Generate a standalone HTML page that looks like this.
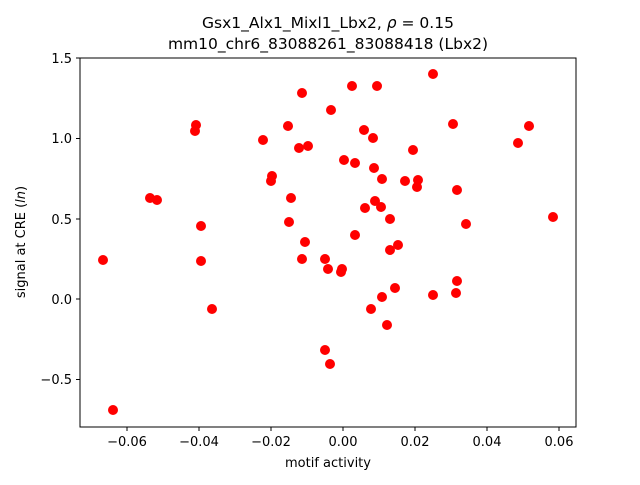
<!DOCTYPE html>
<html><head><meta charset="utf-8"><style>body{margin:0;background:#fff}</style></head><body>
<svg width="640" height="480" xmlns="http://www.w3.org/2000/svg" font-family="DejaVu Sans, Liberation Sans, sans-serif">
<rect width="640" height="480" fill="#fff"/>
<g fill="#f00">
<circle cx="302" cy="93" r="5"/><circle cx="196" cy="125" r="5"/><circle cx="195" cy="131" r="5"/><circle cx="288" cy="126" r="5"/><circle cx="263" cy="140" r="5"/><circle cx="299" cy="148" r="5"/><circle cx="308" cy="146" r="5"/><circle cx="272" cy="176" r="5"/><circle cx="271" cy="181" r="5"/><circle cx="150" cy="198" r="5"/><circle cx="157" cy="200" r="5"/><circle cx="291" cy="198" r="5"/><circle cx="201" cy="226" r="5"/><circle cx="289" cy="222" r="5"/><circle cx="305" cy="242" r="5"/><circle cx="103" cy="260" r="5"/><circle cx="201" cy="261" r="5"/><circle cx="302" cy="259" r="5"/><circle cx="212" cy="309" r="5"/><circle cx="113" cy="410" r="5"/>
<circle cx="433" cy="74" r="5"/><circle cx="352" cy="86" r="5"/><circle cx="377" cy="86" r="5"/><circle cx="331" cy="110" r="5"/><circle cx="453" cy="124" r="5"/><circle cx="529" cy="126" r="5"/><circle cx="364" cy="130" r="5"/><circle cx="373" cy="138" r="5"/><circle cx="518" cy="143" r="5"/><circle cx="413" cy="150" r="5"/><circle cx="344" cy="160" r="5"/><circle cx="355" cy="163" r="5"/><circle cx="374" cy="168" r="5"/><circle cx="382" cy="179" r="5"/><circle cx="405" cy="181" r="5"/><circle cx="418" cy="180" r="5"/><circle cx="417" cy="187" r="5"/><circle cx="457" cy="190" r="5"/><circle cx="375" cy="201" r="5"/><circle cx="381" cy="207" r="5"/><circle cx="365" cy="208" r="5"/><circle cx="390" cy="219" r="5"/><circle cx="466" cy="224" r="5"/><circle cx="553" cy="217" r="5"/><circle cx="355" cy="235" r="5"/><circle cx="398" cy="245" r="5"/><circle cx="390" cy="250" r="5"/><circle cx="325" cy="259" r="5"/><circle cx="328" cy="269" r="5"/><circle cx="342" cy="269" r="5"/><circle cx="341" cy="272" r="5"/><circle cx="457" cy="281" r="5"/><circle cx="395" cy="288" r="5"/><circle cx="382" cy="297" r="5"/><circle cx="433" cy="295" r="5"/><circle cx="456" cy="293" r="5"/><circle cx="371" cy="309" r="5"/><circle cx="387" cy="325" r="5"/><circle cx="325" cy="350" r="5"/><circle cx="330" cy="364" r="5"/>
</g>
<rect x="80" y="58" width="496" height="369" fill="none" stroke="#000" stroke-width="1"/>
<g stroke="#000">
<line x1="127" y1="427" x2="127" y2="431"/><line x1="199" y1="427" x2="199" y2="431"/><line x1="271" y1="427" x2="271" y2="431"/><line x1="343" y1="427" x2="343" y2="431"/><line x1="415" y1="427" x2="415" y2="431"/><line x1="487" y1="427" x2="487" y2="431"/><line x1="559" y1="427" x2="559" y2="431"/>
<line x1="76" y1="58" x2="80" y2="58"/><line x1="76" y1="138.5" x2="80" y2="138.5"/><line x1="76" y1="219" x2="80" y2="219"/><line x1="76" y1="299" x2="80" y2="299"/><line x1="76" y1="379.5" x2="80" y2="379.5"/>
</g>
<g font-size="13" text-anchor="middle" fill="#000">
<text x="127" y="446">−0.06</text><text x="199" y="446">−0.04</text><text x="271" y="446">−0.02</text><text x="343" y="446">0.00</text><text x="415" y="446">0.02</text><text x="487" y="446">0.04</text><text x="559" y="446">0.06</text>
</g>
<g font-size="13" text-anchor="end" fill="#000">
<text x="72" y="63">1.5</text><text x="72" y="143">1.0</text><text x="72" y="224">0.5</text><text x="72" y="304">0.0</text><text x="72" y="384">−0.5</text>
</g>
<text x="328" y="467" font-size="13" text-anchor="middle">motif activity</text>
<text transform="translate(25,242) rotate(-90)" font-size="13" text-anchor="middle">signal at CRE (<tspan font-style="italic">ln</tspan>)</text>
<text x="328" y="28" font-size="15.5" text-anchor="middle">Gsx1_Alx1_Mixl1_Lbx2, <tspan font-style="italic">ρ</tspan> = 0.15</text>
<text x="328" y="49" font-size="15.5" text-anchor="middle">mm10_chr6_83088261_83088418 (Lbx2)</text>
</svg>
</body></html>
